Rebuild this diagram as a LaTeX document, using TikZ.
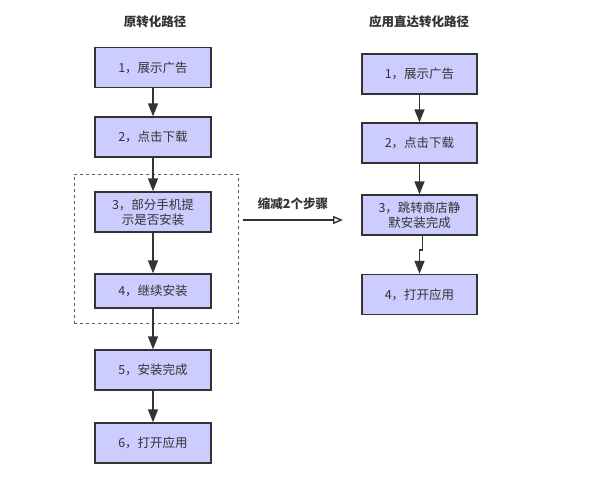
\documentclass[tikz,border=0pt]{standalone}
\usepackage{fontspec}
\setmainfont{Noto Sans CJK SC}
\usetikzlibrary{arrows.meta}
\definecolor{boxfill}{HTML}{CCCCFF}
\definecolor{ink}{HTML}{333333}
\tikzset{
  stepbox/.style={draw=ink, line width=1.4pt, fill=boxfill, text=ink, font=\fontsize{12.5}{15}\selectfont, align=center, inner sep=0pt},
  flow/.style={draw=ink, line width=1.4pt, -{Triangle[length=13pt,width=10pt]}},
  title/.style={text=ink, font=\fontsize{12.5}{15}\selectfont\bfseries},
}
\begin{document}
\begin{tikzpicture}[x=1pt,y=-1pt]
\useasboundingbox (0,0) rectangle (589,495);
\fill[white] (0,0) rectangle (589,495);
% titles
\node[title] (t1) at (155,22) {原转化路径};
\node[title] (t2) at (419,22) {应用直达转化路径};
% left column
\node[stepbox, minimum width=116pt, minimum height=40pt] (l1) at (153,67.5) {1，展示广告};
\node[stepbox, minimum width=116pt, minimum height=40pt] (l2) at (153,137) {2，点击下载};
\node[stepbox, minimum width=116pt, minimum height=40pt] (l3) at (153,212) {3，部分手机提\\示是否安装};
\node[stepbox, minimum width=116pt, minimum height=34pt] (l4) at (153,291) {4，继续安装};
\node[stepbox, minimum width=116pt, minimum height=40pt] (l5) at (153,370) {5，安装完成};
\node[stepbox, minimum width=116pt, minimum height=40pt] (l6) at (153,443) {6，打开应用};
\node[draw=ink!80, dashed, line width=0.8pt, minimum width=164pt, minimum height=149pt, inner sep=0pt] (grp) at (156,248.5) {};
\draw[flow] (l1) -- (l2);
\draw[flow] (l2) -- (l3);
\draw[flow] (l3) -- (l4);
\draw[flow] (l4) -- (l5);
\draw[flow] (l5) -- (l6);
% right column
\node[stepbox, minimum width=115pt, minimum height=40pt] (r1) at (419.5,74) {1，展示广告};
\node[stepbox, minimum width=115pt, minimum height=40pt] (r2) at (419.5,143) {2，点击下载};
\node[stepbox, minimum width=115pt, minimum height=40pt] (r3) at (419.5,215) {3，跳转商店静\\默安装完成};
\node[stepbox, minimum width=115pt, minimum height=40pt] (r4) at (419.5,294.5) {4，打开应用};
\draw[flow] (r1) -- (r2);
\draw[flow] (r2) -- (r3);
\coordinate (j1) at (422.5,250);
\coordinate (j2) at (419.5,250);
\draw[flow] (r3.south -| j1) -- (j1) -- (j2) -- (r4.north);
% reduction arrow
\coordinate (ra) at (243,220);
\coordinate (rb) at (343,220);
\draw[draw=ink, line width=1.4pt, -{Triangle[open,length=10pt,width=8pt]}] (ra) -- (rb)
  node[midway, above=6pt, title] (rl) {缩减2个步骤};
\end{tikzpicture}
\end{document}
